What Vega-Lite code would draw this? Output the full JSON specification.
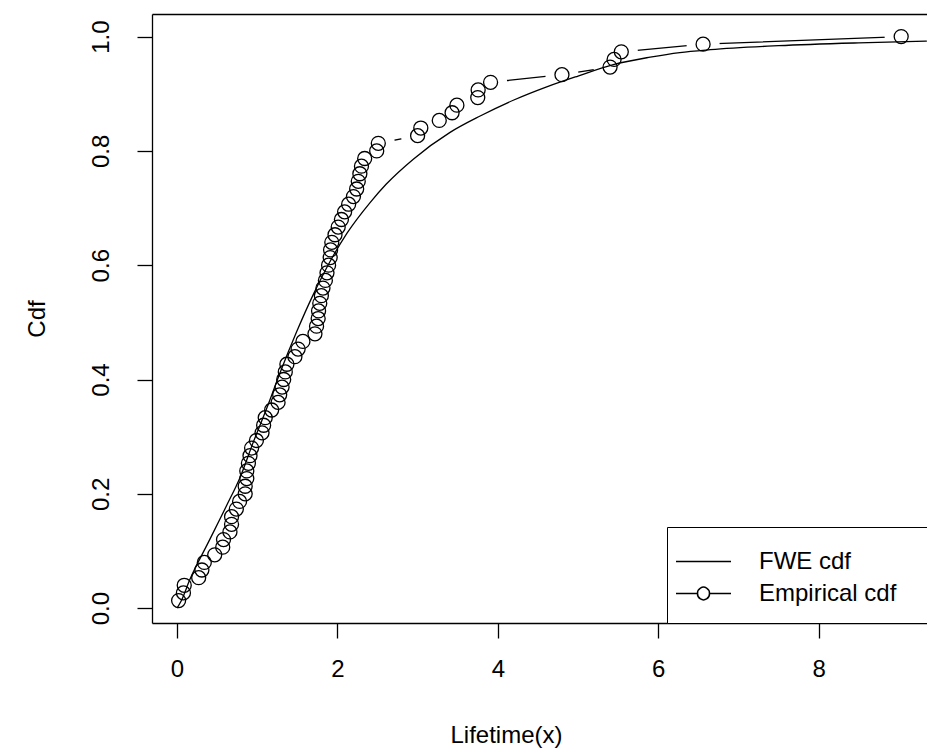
{
  "$schema": "https://vega.github.io/schema/vega-lite/v6.json",
  "width": 775,
  "height": 609,
  "autosize": {"type": "none"},
  "padding": {"left": 152, "top": 14, "right": 0, "bottom": 130},
  "background": "white",
  "config": {
    "view": {"stroke": null},
    "font": "Liberation Sans",
    "axis": {
      "domainColor": "black", "domainWidth": 1.3, "tickColor": "black", "tickWidth": 1.3,
      "labelColor": "black", "titleColor": "black", "labelFont": "Liberation Sans", "titleFont": "Liberation Sans",
      "labelFontSize": 24, "titleFontSize": 24, "titleFontWeight": "normal", "grid": false,
      "labelFlush": false, "labelOverlap": false, "tickSize": 15
    }
  },
  "datasets": {
    "emp": [
      {"x": 0.02, "F": 0.0133}, {"x": 0.08, "F": 0.0267}, {"x": 0.09, "F": 0.04}, {"x": 0.27, "F": 0.0533},
      {"x": 0.31, "F": 0.0667}, {"x": 0.34, "F": 0.08}, {"x": 0.47, "F": 0.0933}, {"x": 0.57, "F": 0.1067},
      {"x": 0.58, "F": 0.12}, {"x": 0.66, "F": 0.1333}, {"x": 0.68, "F": 0.1467}, {"x": 0.68, "F": 0.16},
      {"x": 0.74, "F": 0.1733}, {"x": 0.78, "F": 0.1867}, {"x": 0.85, "F": 0.2}, {"x": 0.85, "F": 0.2133},
      {"x": 0.87, "F": 0.2267}, {"x": 0.87, "F": 0.24}, {"x": 0.89, "F": 0.2533}, {"x": 0.91, "F": 0.2667},
      {"x": 0.93, "F": 0.28}, {"x": 0.99, "F": 0.2933}, {"x": 1.06, "F": 0.3067}, {"x": 1.08, "F": 0.32},
      {"x": 1.10, "F": 0.3333}, {"x": 1.18, "F": 0.3467}, {"x": 1.26, "F": 0.36}, {"x": 1.28, "F": 0.3733},
      {"x": 1.31, "F": 0.3867}, {"x": 1.33, "F": 0.4}, {"x": 1.35, "F": 0.4133}, {"x": 1.37, "F": 0.4267},
      {"x": 1.47, "F": 0.44}, {"x": 1.51, "F": 0.4533}, {"x": 1.57, "F": 0.4667}, {"x": 1.72, "F": 0.48},
      {"x": 1.74, "F": 0.4933}, {"x": 1.76, "F": 0.5067}, {"x": 1.765, "F": 0.52}, {"x": 1.78, "F": 0.5333},
      {"x": 1.80, "F": 0.5467}, {"x": 1.82, "F": 0.56}, {"x": 1.85, "F": 0.5733}, {"x": 1.87, "F": 0.5867},
      {"x": 1.89, "F": 0.6}, {"x": 1.91, "F": 0.6133}, {"x": 1.915, "F": 0.6267}, {"x": 1.93, "F": 0.64},
      {"x": 1.97, "F": 0.6533}, {"x": 2.01, "F": 0.6667}, {"x": 2.05, "F": 0.68}, {"x": 2.09, "F": 0.6933},
      {"x": 2.14, "F": 0.7067}, {"x": 2.20, "F": 0.72}, {"x": 2.24, "F": 0.7333}, {"x": 2.26, "F": 0.7467},
      {"x": 2.28, "F": 0.76}, {"x": 2.30, "F": 0.7733}, {"x": 2.34, "F": 0.7867}, {"x": 2.49, "F": 0.8},
      {"x": 2.51, "F": 0.8133}, {"x": 3.00, "F": 0.8267}, {"x": 3.04, "F": 0.84}, {"x": 3.27, "F": 0.8533},
      {"x": 3.43, "F": 0.8667}, {"x": 3.49, "F": 0.88}, {"x": 3.75, "F": 0.8933}, {"x": 3.755, "F": 0.9067},
      {"x": 3.91, "F": 0.92}, {"x": 4.80, "F": 0.9333}, {"x": 5.40, "F": 0.9467}, {"x": 5.45, "F": 0.96},
      {"x": 5.54, "F": 0.9733}, {"x": 6.56, "F": 0.9867}, {"x": 9.03, "F": 1.0}
    ],
    "fwe": [
      {"x": 0.0, "F": 0.0}, {"x": 0.05, "F": 0.012}, {"x": 0.16, "F": 0.05}, {"x": 0.39, "F": 0.115},
      {"x": 0.62, "F": 0.18}, {"x": 0.79, "F": 0.23}, {"x": 0.95, "F": 0.29}, {"x": 1.12, "F": 0.35},
      {"x": 1.28, "F": 0.41}, {"x": 1.49, "F": 0.483}, {"x": 1.70, "F": 0.549}, {"x": 1.91, "F": 0.607},
      {"x": 2.12, "F": 0.656}, {"x": 2.41, "F": 0.71}, {"x": 2.61, "F": 0.742}, {"x": 2.95, "F": 0.786},
      {"x": 3.4, "F": 0.832}, {"x": 3.78, "F": 0.861}, {"x": 4.2, "F": 0.889}, {"x": 4.61, "F": 0.912},
      {"x": 5.0, "F": 0.931}, {"x": 5.44, "F": 0.951}, {"x": 5.9, "F": 0.964}, {"x": 6.27, "F": 0.972},
      {"x": 6.65, "F": 0.977}, {"x": 7.5, "F": 0.984}, {"x": 8.5, "F": 0.989}, {"x": 9.35, "F": 0.992}
    ]
  },
  "encoding": {
    "y": {
      "field": "F", "type": "quantitative",
      "scale": {"domain": [-0.026, 1.0395], "nice": false, "zero": false},
      "axis": {"values": [0, 0.2, 0.4, 0.6, 0.8, 1.0], "format": ".1f", "labelAngle": 270, "labelAlign": "center",
               "labelBaseline": "bottom", "labelPadding": 24, "title": "Cdf", "titlePadding": 40}
    }
  },
  "layer": [
    {
      "data": {"name": "emp"},
      "mark": {"type": "line", "strokeWidth": 1.3},
      "encoding": {
        "x": {"field": "x", "type": "quantitative", "scale": {"domain": [-0.312, 9.352], "nice": false, "zero": false},
              "axis": {"orient": "bottom", "values": [0, 2, 4, 6, 8], "labelPadding": 19, "title": "Lifetime(x)", "titlePadding": 42,
                       "titleX": 354, "titleAlign": "center"}},
        "color": {
          "datum": "Empirical cdf",
          "scale": {"domain": ["FWE cdf", "Empirical cdf"], "range": ["black", "black"]},
          "legend": {
            "orient": "none", "legendX": 515, "legendY": 513, "title": null,
            "strokeColor": "black", "padding": 17, "cornerRadius": 0, "fillColor": "white",
            "labelFont": "Liberation Sans", "labelFontSize": 24, "labelColor": "black",
            "symbolSize": 1089, "labelOffset": 40, "rowPadding": 2,
            "encode": {
              "symbols": {
                "update": {
                  "shape": {"signal": "datum.value === 'Empirical cdf' ? 'M-1.545,0L-0.242,0M0.485,0L1.788,0M0.485,0A0.364,0.364,0,1,1,-0.242,0A0.364,0.364,0,1,1,0.485,0M15,0' : 'M-1.545,0L1.788,0M15,0'"},
                  "fill": {"value": "transparent"},
                  "stroke": {"value": "black"}
                }
              }
            }
          }
        }
      }
    },
    {
      "data": {"name": "emp"},
      "mark": {"type": "point", "shape": "circle", "filled": true, "fill": "white", "strokeWidth": 0, "size": 1100, "opacity": 1},
      "encoding": {
        "x": {"field": "x", "type": "quantitative", "axis": null}
      }
    },
    {
      "data": {"name": "fwe"},
      "mark": {"type": "line", "strokeWidth": 1.3, "interpolate": "monotone"},
      "encoding": {
        "x": {"field": "x", "type": "quantitative",
              "axis": {"orient": "top", "labels": false, "ticks": false, "title": null, "domain": true}},
        "color": {"datum": "FWE cdf"}
      }
    },
    {
      "data": {"name": "emp"},
      "mark": {"type": "point", "shape": "circle", "filled": false, "stroke": "black", "strokeWidth": 1.3, "size": 196, "opacity": 1},
      "encoding": {
        "x": {"field": "x", "type": "quantitative", "axis": null}
      }
    }
  ],
  "resolve": {"axis": {"x": "independent"}}
}
